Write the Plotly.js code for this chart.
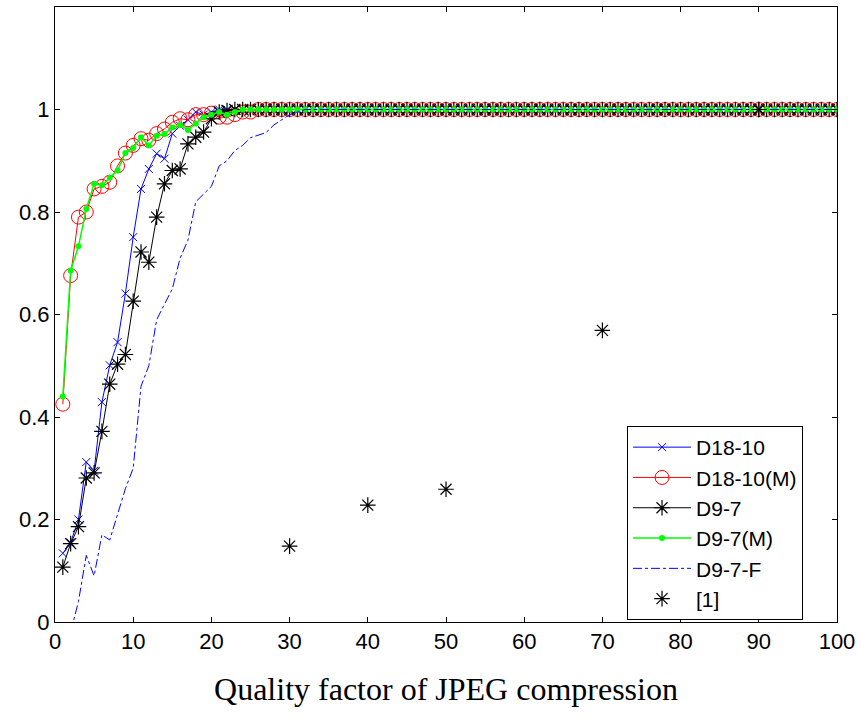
<!DOCTYPE html>
<html><head><meta charset="utf-8">
<script src="https://cdn.plot.ly/plotly-3.0.1.min.js"></script>
<style>html,body{margin:0;padding:0;background:#fff}#chart{width:861px;height:720px}</style>
</head><body><div id="chart"></div>
<script>
const quality = [
1,2,3,4,5,6,7,8,9,10,
11,12,13,14,15,16,17,18,19,20,
21,22,23,24,25,26,27,28,29,30,
31,32,33,34,35,36,37,38,39,40,
41,42,43,44,45,46,47,48,49,50,
51,52,53,54,55,56,57,58,59,60,
61,62,63,64,65,66,67,68,69,70,
71,72,73,74,75,76,77,78,79,80,
81,82,83,84,85,86,87,88,89,90,
91,92,93,94,95,96,97,98,99,100];

const d1810 = [
0.134,0.155,0.20,0.312,0.295,0.429,0.501,0.546,0.641,0.751,
0.845,0.884,0.914,0.904,0.953,0.968,0.98,0.995,0.99,0.995,
1,1,1,1,1,1,1,1,1,1,
1,1,1,1,1,1,1,1,1,1,
1,1,1,1,1,1,1,1,1,1,
1,1,1,1,1,1,1,1,1,1,
1,1,1,1,1,1,1,1,1,1,
1,1,1,1,1,1,1,1,1,1,
1,1,1,1,1,1,1,1,1,1,
1,1,1,1,1,1,1,1,1,1];

const d1810m = [
0.425,0.676,0.79,0.80,0.845,0.85,0.858,0.89,0.915,0.93,
0.943,0.94,0.953,0.962,0.975,0.982,0.98,0.99,0.99,0.993,
0.985,0.985,0.99,0.995,0.995,1,1,1,1,1,
1,1,1,1,1,1,1,1,1,1,
1,1,1,1,1,1,1,1,1,1,
1,1,1,1,1,1,1,1,1,1,
1,1,1,1,1,1,1,1,1,1,
1,1,1,1,1,1,1,1,1,1,
1,1,1,1,1,1,1,1,1,1,
1,1,1,1,1,1,1,1,1,1];

const d97 = [
0.107,0.153,0.186,0.281,0.291,0.372,0.464,0.503,0.522,0.626,
0.722,0.702,0.79,0.855,0.881,0.884,0.933,0.946,0.956,0.982,
0.995,0.998,1,1,1,1,1,1,1,1,
1,1,1,1,1,1,1,1,1,1,
1,1,1,1,1,1,1,1,1,1,
1,1,1,1,1,1,1,1,1,1,
1,1,1,1,1,1,1,1,1,1,
1,1,1,1,1,1,1,1,1,1,
1,1,1,1,1,1,1,1,1,1,
1,1,1,1,1,1,1,1,1,1];

const d97m = [
0.44,0.686,0.733,0.806,0.855,0.852,0.867,0.881,0.915,0.925,
0.946,0.93,0.949,0.952,0.965,0.97,0.96,0.972,0.985,0.99,
0.995,0.99,0.995,1,1,1,1,1,1,1,
1,1,1,1,1,1,1,1,1,1,
1,1,1,1,1,1,1,1,1,1,
1,1,1,1,1,1,1,1,1,1,
1,1,1,1,1,1,1,1,1,1,
1,1,1,1,1,1,1,1,1,1,
1,1,1,1,1,1,1,1,1,1,
1,1,1,1,1,1,1,1,1,1];

const d97f = [
-0.05,-0.02,0.04,0.13,0.09,0.17,0.16,0.21,0.26,0.30,
0.46,0.50,0.59,0.62,0.65,0.71,0.745,0.82,0.835,0.85,
0.89,0.90,0.92,0.93,0.945,0.95,0.955,0.97,0.98,0.99,
0.995,1,1,1,1,1,1,1,1,1,
1,1,1,1,1,1,1,1,1,1,
1,1,1,1,1,1,1,1,1,1,
1,1,1,1,1,1,1,1,1,1,
1,1,1,1,1,1,1,1,1,1,
1,1,1,1,1,1,1,1,1,1,
1,1,1,1,1,1,1,1,1,1];

const refX = [30,40,50,70,90];
const refY = [0.148,0.228,0.259,0.569,1.0];

const seriesNames = ['D18-10','D18-10(M)','D9-7','D9-7(M)','D9-7-F','[1]'];
const xTicks = [0,10,20,30,40,50,60,70,80,90,100];
const yTicks = [0,0.2,0.4,0.6,0.8,1];
const yTickText = ['0','0.2','0.4','0.6','0.8','1'];

const traces = [
 {x: quality, y: d1810, name: seriesNames[0], mode:'lines+markers',
  line:{color:'#0000ff', width:1},
  marker:{symbol:'x-thin-open', size:8, color:'#0000ff', line:{color:'#0000ff', width:1}}},
 {x: quality, y: d1810m, name: seriesNames[1], mode:'lines+markers',
  line:{color:'#ff0000', width:1},
  marker:{symbol:'circle-open', size:14, color:'#ff0000', line:{color:'#ff0000', width:1}}},
 {x: quality, y: d97, name: seriesNames[2], mode:'lines+markers',
  line:{color:'#000000', width:1},
  marker:{symbol:'asterisk-open', size:13, color:'#000000', line:{color:'#000000', width:1.2}}},
 {x: quality, y: d97m, name: seriesNames[3], mode:'lines+markers',
  line:{color:'#00ff00', width:1.5},
  marker:{symbol:'circle', size:6, color:'#00ff00'}},
 {x: quality, y: d97f, name: seriesNames[4], mode:'lines',
  line:{color:'#0000ff', width:1, dash:'dashdot'}},
 {x: refX, y: refY, name: seriesNames[5], mode:'markers',
  marker:{symbol:'asterisk-open', size:13, color:'#000000', line:{color:'#000000', width:1.2}}}
];

const axisCommon = {
  showgrid:false, zeroline:false, showline:true, mirror:'ticks',
  linecolor:'#000', linewidth:1, ticks:'inside', ticklen:5, tickcolor:'#000',
  tickfont:{family:'Liberation Sans, Arial, sans-serif', size:22, color:'#000'}
};

const layout = {
  width:861, height:720,
  paper_bgcolor:'#fff', plot_bgcolor:'#fff',
  margin:{l:55, r:24, t:7, b:98},
  showlegend:true,
  legend:{x:0.7315, y:0.3187, xanchor:'left', yanchor:'top',
    bgcolor:'#fff', bordercolor:'#000', borderwidth:1,
    font:{family:'Liberation Sans, Arial, sans-serif', size:21, color:'#000'},
    itemwidth:58, tracegroupgap:0},
  xaxis: Object.assign({}, axisCommon, {
    range:[0,100], tickvals:xTicks, ticktext:xTicks.map(String),
    title:{text:'Quality factor of JPEG compression', standoff:24,
      font:{family:'Liberation Serif, Times New Roman, serif', size:32, color:'#000'}}
  }),
  yaxis: Object.assign({}, axisCommon, {
    range:[0,1.2], tickvals:yTicks, ticktext:yTickText
  })
};

Plotly.newPlot('chart', traces, layout, {displayModeBar:false, staticPlot:true});
</script>
</body></html>
